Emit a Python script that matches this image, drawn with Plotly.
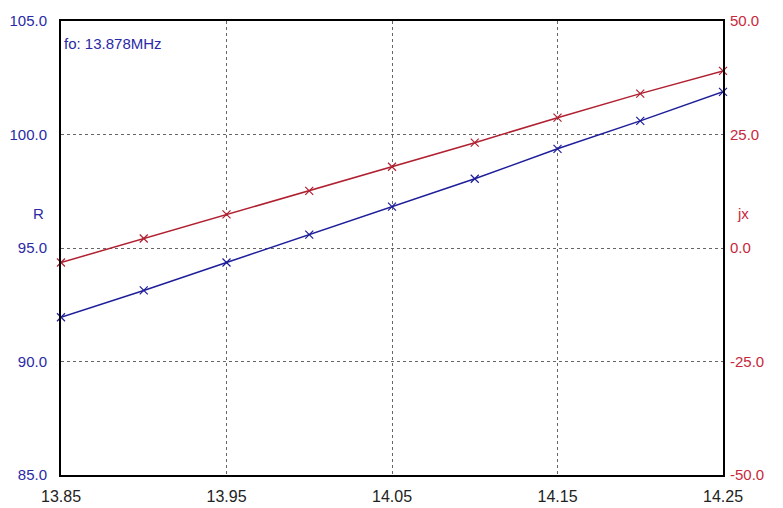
import plotly.graph_objects as go

freq = [13.85, 13.90, 13.95, 14.00, 14.05, 14.10, 14.15, 14.20, 14.25]
r_vals = [91.95, 93.13, 94.36, 95.59, 96.82, 98.05, 99.37, 100.60, 101.88]
jx_vals = [-3.2, 2.1, 7.4, 12.6, 17.9, 23.2, 28.7, 34.0, 39.0]

x_ticks = [13.85, 13.95, 14.05, 14.15, 14.25]
r_ticks = [85, 90, 95, 100, 105]
jx_ticks = [-50, -25, 0, 25, 50]

BLUE = "#2a2aa6"
RED = "#c8283c"
FONT = "Liberation Sans, Arial, sans-serif"

fig = go.Figure()
fig.add_trace(go.Scatter(
    x=freq, y=r_vals, mode="lines+markers", name="R",
    line=dict(color="#1e1e9a", width=1.5),
    marker=dict(symbol="x-thin", size=8, line=dict(color="#1e1e9a", width=1.2)),
    yaxis="y", cliponaxis=False,
))
fig.add_trace(go.Scatter(
    x=freq, y=jx_vals, mode="lines+markers", name="jx",
    line=dict(color="#b02030", width=1.5),
    marker=dict(symbol="x-thin", size=8, line=dict(color="#b02030", width=1.2)),
    yaxis="y2", cliponaxis=False,
))

fig.update_layout(
    width=783, height=508,
    margin=dict(l=61, r=60, t=21, b=33, autoexpand=False),
    paper_bgcolor="white", plot_bgcolor="white",
    showlegend=False,
    font=dict(family=FONT, size=15),
    xaxis=dict(
        range=[13.85, 14.25], tickvals=x_ticks, ticktext=[f"{v:.2f}" for v in x_ticks],
        showgrid=True, gridcolor="#666666", griddash="dot", gridwidth=1.3,
        showline=True, linecolor="black", linewidth=2, mirror=True,
        ticks="", ticklabelstandoff=6, zeroline=False, automargin=False,
        tickfont=dict(color="#222222", size=16, family=FONT),
    ),
    yaxis=dict(
        range=[85, 105], tickvals=r_ticks, ticktext=[f"{v:.1f}" for v in r_ticks],
        showgrid=True, gridcolor="#666666", griddash="dot", gridwidth=1.3,
        showline=True, linecolor="black", linewidth=2, mirror=True,
        ticks="", ticklabelstandoff=9, zeroline=False, automargin=False,
        tickfont=dict(color=BLUE, size=15, family=FONT),
    ),
    yaxis2=dict(
        range=[-50, 50], tickvals=jx_ticks, ticktext=[f"{v:.1f}" for v in jx_ticks],
        overlaying="y", side="right", showgrid=False, zeroline=False,
        ticks="", ticklabelstandoff=6, showline=False, automargin=False,
        tickfont=dict(color=RED, size=15, family=FONT),
    ),
    annotations=[
        dict(text="fo: 13.878MHz", xref="paper", yref="paper", x=0.002, y=0.95,
             xanchor="left", yanchor="middle", showarrow=False,
             font=dict(color=BLUE, size=15, family=FONT)),
        dict(text="R", xref="paper", yref="paper", x=-0.022, y=0.577,
             xanchor="right", yanchor="middle", showarrow=False,
             font=dict(color=BLUE, size=15, family=FONT)),
        dict(text="jx", xref="paper", yref="paper", x=1.018, y=0.577,
             xanchor="left", yanchor="middle", showarrow=False,
             font=dict(color=RED, size=15, family=FONT)),
    ],
)

fig.write_html(
    "out.html",
    config={"displayModeBar": False},
    post_script="document.body.style.margin='0';document.body.style.overflow='hidden';",
)
